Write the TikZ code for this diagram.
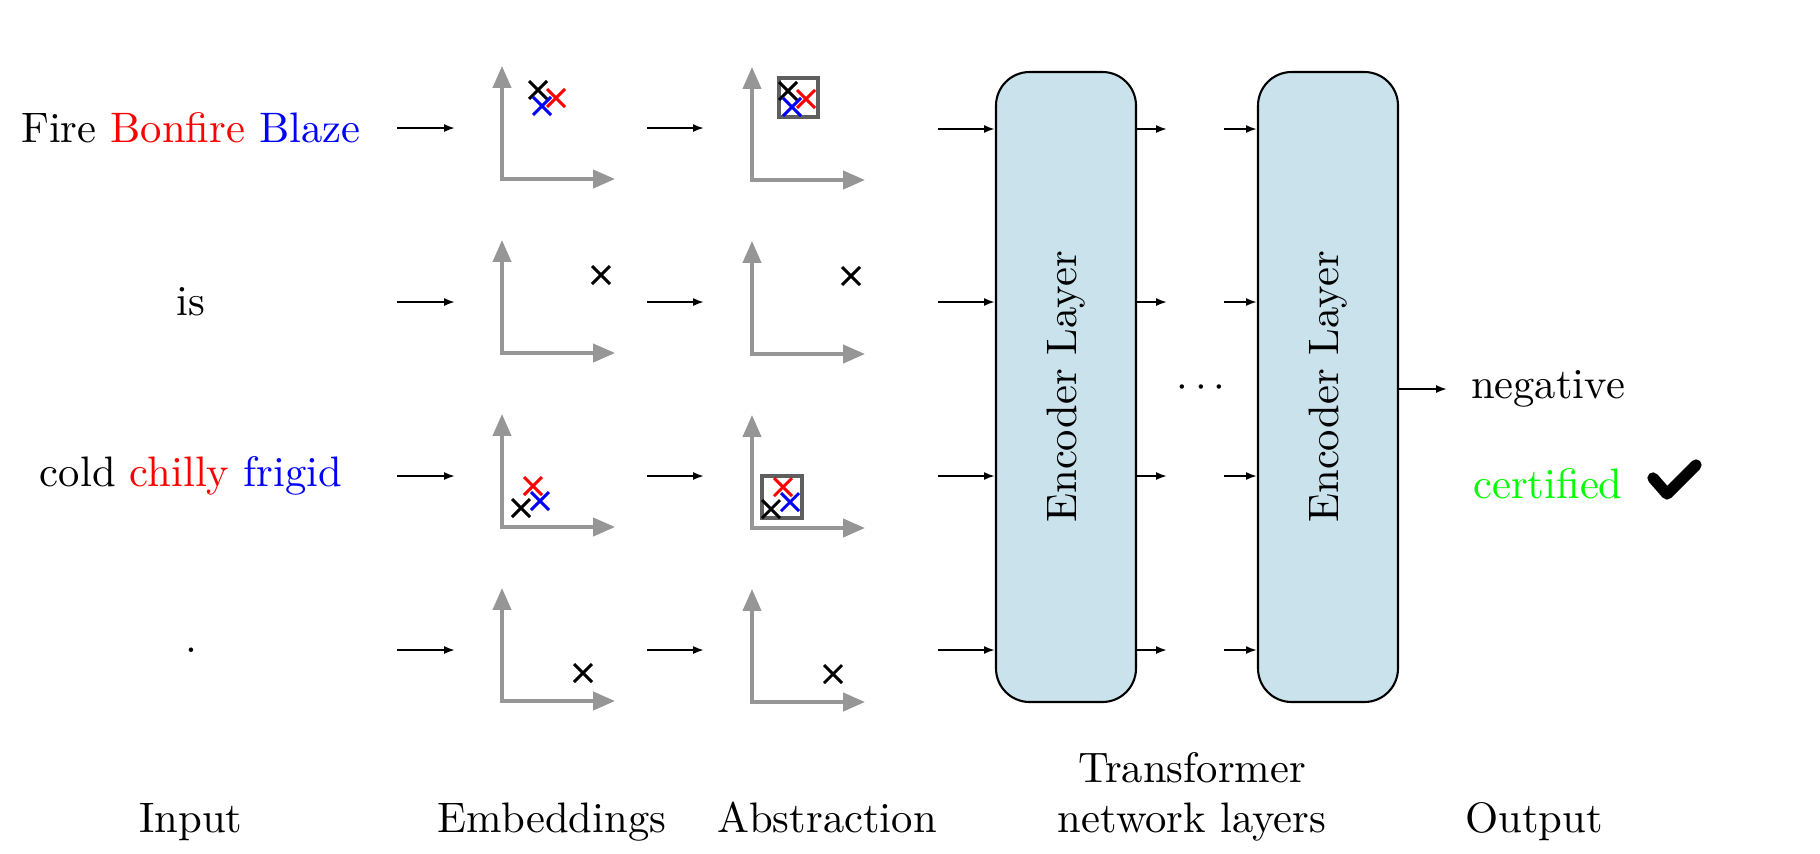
\documentclass[tikz,border=0pt]{standalone}
\usetikzlibrary{arrows.meta}
\definecolor{axisgray}{RGB}{150,150,150}
\definecolor{boxgray}{RGB}{95,95,95}
\definecolor{encblue}{RGB}{201,226,236}
\newcommand\mycross[3]{\draw[crs,#3] (#1,#2) ++(-9,-9) -- ++(18,18) ++(0,-18) -- ++(-18,18);}
\newcommand\myaxes{\draw[axis] (0,-113) -- (0,0) -- (113,0);}
\begin{document}
\begin{tikzpicture}[x=0.2381pt, y=-0.2381pt,
  every node/.style={font=\fontsize{10.15}{12.2}\selectfont},
  conn/.style={-{Latex[length=2.6pt,width=1.9pt]}, line width=0.45pt},
  axis/.style={draw=axisgray, line width=0.85pt, {Triangle[length=5.2pt,width=4.3pt]}-{Triangle[length=5.2pt,width=4.3pt]}, fill=none},
  crs/.style={line width=0.68pt},
  absbox/.style={draw=boxgray, line width=0.75pt},
  encoder/.style={draw=black, line width=0.5pt, fill=encblue, rounded corners=8pt, minimum width=33.33pt, minimum height=150pt, inner sep=0pt},
  word/.style={inner sep=0pt},
  lbl/.style={anchor=base, inner sep=0pt}]
\useasboundingbox (0,0) rectangle (1820,853);

% input words
\node[word] (w1) at (191,128) {Fire \textcolor{red}{Bonfire} \textcolor{blue}{Blaze}};
\node[word] (w2) at (191,302) {is};
\node[word] (w3) at (191,476) {cold \textcolor{red}{chilly} \textcolor{blue}{frigid}};
\node[word] (w4) at (191,650) {.};

% arrows to embeddings and to abstraction
\foreach \i/\y in {1/128,2/302,3/476,4/650}{
  \coordinate (as\i) at (397,\y);
  \coordinate (ae\i) at (455,\y);
  \coordinate (bs\i) at (647,\y);
  \coordinate (be\i) at (704,\y);
  \draw[conn] (as\i) -- (ae\i);
  \draw[conn] (bs\i) -- (be\i);
}

% embeddings panels
\begin{scope}[shift={(502,179)}]
  \myaxes
  \mycross{36}{-89}{black}\mycross{54}{-81}{red}\mycross{40}{-73}{blue}
\end{scope}
\begin{scope}[shift={(502,353)}]
  \myaxes
  \mycross{99}{-78}{black}
\end{scope}
\begin{scope}[shift={(502,527)}]
  \myaxes
  \mycross{31}{-41}{red}\mycross{19}{-19}{black}\mycross{38}{-26}{blue}
\end{scope}
\begin{scope}[shift={(502,701)}]
  \myaxes
  \mycross{81}{-28}{black}
\end{scope}

% abstraction panels
\begin{scope}[shift={(752,180)}]
  \myaxes
  \draw[absbox] (27,-102) rectangle (66,-63);
  \mycross{36}{-89}{black}\mycross{54}{-81}{red}\mycross{40}{-73}{blue}
\end{scope}
\begin{scope}[shift={(752,354)}]
  \myaxes
  \mycross{99}{-78}{black}
\end{scope}
\begin{scope}[shift={(752,528)}]
  \myaxes
  \draw[absbox] (10,-52) rectangle (50,-10);
  \mycross{31}{-41}{red}\mycross{19}{-19}{black}\mycross{38}{-26}{blue}
\end{scope}
\begin{scope}[shift={(752,702)}]
  \myaxes
  \mycross{81}{-28}{black}
\end{scope}

% encoder layers
\node[encoder] (enc1) at (1066,387) {};
\node[encoder] (enc2) at (1328,387) {};
\node[rotate=90] (enc1t) at (enc1.center) {Encoder Layer};
\node[rotate=90] (enc2t) at (enc2.center) {Encoder Layer};

\foreach \i/\y in {1/129,2/302,3/476,4/650}{
  \coordinate (ei\i) at (938,\y);
  \coordinate (mo\i) at (1167,\y);
  \coordinate (ni\i) at (1224,\y);
  \draw[conn] (ei\i) -- (ei\i -| enc1.west);
  \draw[conn] (mo\i -| enc1.east) -- (mo\i);
  \draw[conn] (ni\i) -- (ni\i -| enc2.west);
}
\node[inner sep=0pt] (dots) at (1201,388) {$\cdots$};

% output
\coordinate (oe) at (1447,389);
\draw[conn] (oe -| enc2.east) -- (oe);
\node[word] (neg) at (1548,389) {negative};
\node[word, text=green] (cert) at (1548,484) {certified};
\draw[line width=2.7pt, line cap=round, line join=round] (1653,478) -- (1667,494) -- (1696,465);

% column labels
\node[lbl] (lin) at (191,832) {Input};
\node[lbl] (lemb) at (552,832) {Embeddings};
\node[lbl] (labs) at (827,832) {Abstraction};
\node[lbl] (ltr1) at (1192,782) {Transformer};
\node[lbl] (ltr2) at (1192,832) {network layers};
\node[lbl] (lout) at (1534,832) {Output};
\end{tikzpicture}
\end{document}
